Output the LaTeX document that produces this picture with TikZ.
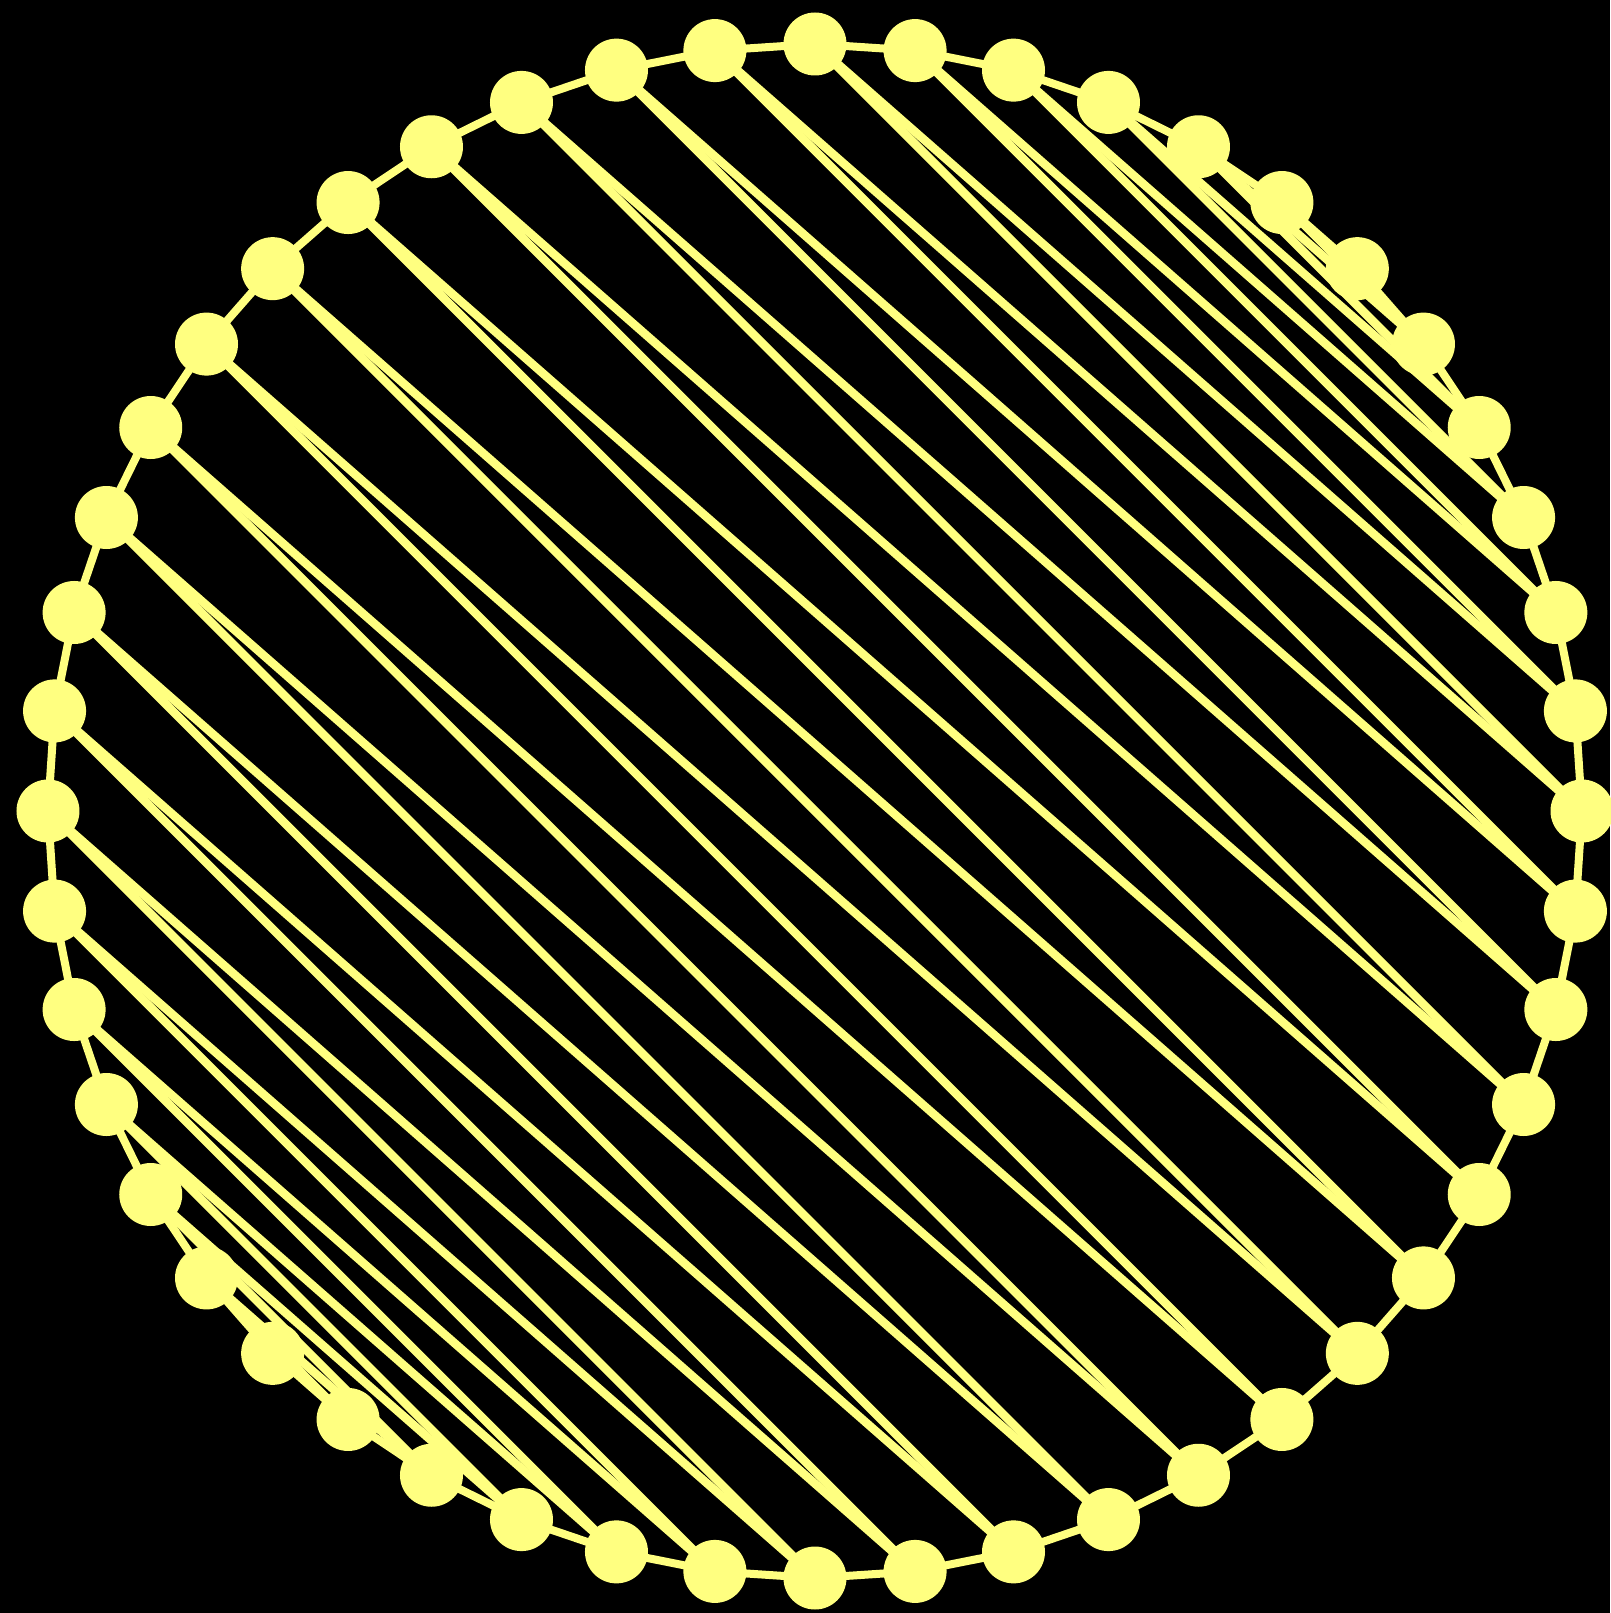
\documentclass[tikz,border=0pt]{standalone}
\usepackage{xcolor}
\definecolor{vtxyellow}{RGB}{255,255,128}
\usepackage{tikz}
\usetikzlibrary{calc}
\pgfdeclarelayer{back}
\pgfdeclarelayer{edges}
\pgfsetlayers{back,edges,main}
\begin{document}
\begin{tikzpicture}[vtx/.style={circle,fill=vtxyellow,draw=none,inner sep=0pt,minimum size=0.63cm},
  rim/.style={draw=vtxyellow,line width=0.08cm},
  chord/.style={draw=vtxyellow,line width=0.085cm}]
  \begin{pgfonlayer}{back}
    \fill[black] (-8.15,-8.02) rectangle (7.95,8.11);
  \end{pgfonlayer}
  \useasboundingbox (-8.15,-8.02) rectangle (7.95,8.11);
  \foreach \k in {0,...,47}{
    \node[vtx] (v\k) at ({90-7.5*\k}:7.67) {};
  }
  \begin{pgfonlayer}{edges}
    \foreach \k in {0,...,47}{
      \pgfmathtruncatemacro\nxt{mod(\k+1,48)}
      \draw[rim] (v\k.center) -- (v\nxt.center);
    }
    \foreach \i in {0,...,47}{
      \pgfmathtruncatemacro\ja{mod(59-\i,48)}
      \pgfmathtruncatemacro\jb{mod(60-\i,48)}
      \ifnum\ja>\numexpr\i+1\relax \draw[chord] (v\i.center) -- (v\ja.center); \fi
      \ifnum\jb>\i \draw[chord] (v\i.center) -- (v\jb.center); \fi
    }
  \end{pgfonlayer}
\end{tikzpicture}
\end{document}
